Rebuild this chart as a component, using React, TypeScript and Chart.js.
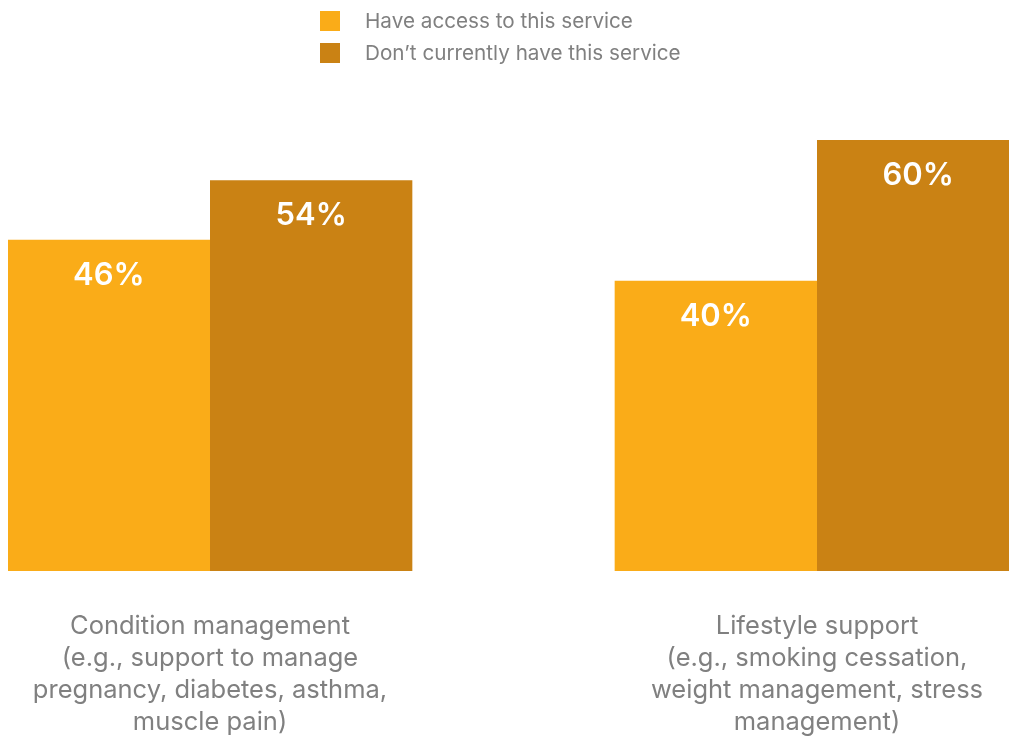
import React, { useEffect, useRef } from 'react';
import { Chart, registerables } from 'chart.js';

Chart.register(...registerables);

const categories: string[][] = [
  ['Condition management', '(e.g., support to manage', 'pregnancy, diabetes, asthma,', 'muscle pain)'],
  ['Lifestyle support', '(e.g., smoking cessation,', 'weight management, stress', 'management)'],
];
const seriesNames = ['Have access to this service', 'Don\u2019t currently have this service'];
// bar heights (labels show the rounded values)
const haveAccess = [46.1, 40.4];
const dontHave = [54.4, 60.0];

const FONT = 'Inter, "Open Sans", "DejaVu Sans", sans-serif';
const GREY = '#808080';

const stackedLegend = {
  id: 'stackedLegend',
  afterDraw(chart: any) {
    const ctx = chart.ctx;
    ctx.save();
    const left = 312;
    chart.data.datasets.forEach((ds: any, i: number) => {
      const top = 3 + i * 32;
      ctx.fillStyle = ds.backgroundColor;
      ctx.fillRect(left, top, 20, 20);
      ctx.fillStyle = GREY;
      ctx.font = `20.7px ${FONT}`;
      ctx.textAlign = 'left';
      ctx.textBaseline = 'middle';
      ctx.fillText(ds.label, left + 45, top + 11);
    });
    ctx.restore();
  },
};

const barLabels = {
  id: 'barLabels',
  afterDatasetsDraw(chart: any) {
    const ctx = chart.ctx;
    ctx.save();
    ctx.fillStyle = '#ffffff';
    ctx.font = `600 31px ${FONT}`;
    ctx.textAlign = 'center';
    ctx.textBaseline = 'alphabetic';
    chart.data.datasets.forEach((ds: any, di: number) => {
      const meta = chart.getDatasetMeta(di);
      meta.data.forEach((el: any, i: number) => {
        ctx.fillText(`${Math.round(ds.data[i])}%`, el.x, el.y + 45);
      });
    });
    ctx.restore();
  },
};

export default function App() {
  const ref = useRef<HTMLCanvasElement>(null);
  useEffect(() => {
    if (!ref.current) return;
    const chart = new Chart(ref.current, {
      type: 'bar',
      data: {
        labels: categories,
        datasets: [
          {
            label: seriesNames[0],
            data: haveAccess,
            backgroundColor: '#FAAC18',
            categoryPercentage: 2 / 3,
            barPercentage: 1,
            clip: false,
          },
          {
            label: seriesNames[1],
            data: dontHave,
            backgroundColor: '#CA8214',
            categoryPercentage: 2 / 3,
            barPercentage: 1,
            clip: false,
          },
        ],
      },
      options: {
        animation: false,
        responsive: false,
        layout: { padding: { left: 202, right: 192, top: 132, bottom: 0 } },
        plugins: {
          legend: { display: false },
          tooltip: { enabled: false },
        },
        scales: {
          x: {
            offset: false,
            grid: { display: false, drawTicks: true, tickLength: 19 },
            border: { display: false },
            ticks: {
              color: GREY,
              font: { size: 25.5, family: FONT, lineHeight: 32 / 25.5 },
              padding: 20,
              maxRotation: 0,
              autoSkip: false,
            },
          },
          y: { display: false, min: 0, max: 60 },
        },
      },
      plugins: [stackedLegend, barLabels],
    });
    return () => chart.destroy();
  }, []);
  return (
    <div style={{ position: 'fixed', left: 8, top: 8, width: 1001, height: 750 }}>
      <canvas ref={ref} width={1001} height={750} />
    </div>
  );
}
